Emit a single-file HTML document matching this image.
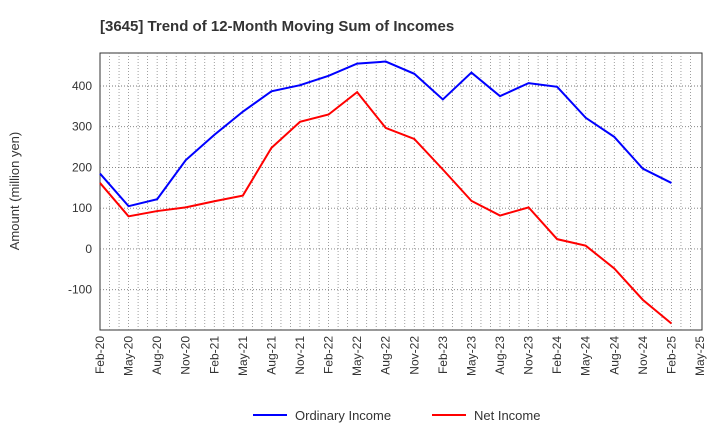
<!DOCTYPE html>
<html><head><meta charset="utf-8"><style>
body{margin:0;background:#fff;font-family:"Liberation Sans",sans-serif;}
</style></head><body>
<svg width="720" height="440" xmlns="http://www.w3.org/2000/svg">
<text x="100" y="31" font-size="15" font-weight="bold" fill="#333">[3645]  Trend of 12-Month Moving Sum of Incomes</text>
<g id="grid"></g>
<g id="axes"></g>
<g id="series"></g>
<text transform="translate(19,191) rotate(-90)" text-anchor="middle" font-size="13" fill="#333">Amount (million yen)</text>
<g>
<line x1="253" y1="415" x2="287" y2="415" stroke="#0000ff" stroke-width="2"/>
<text x="295" y="420" font-size="13" fill="#333">Ordinary Income</text>
<line x1="432" y1="415" x2="466" y2="415" stroke="#ff0000" stroke-width="2"/>
<text x="474" y="420" font-size="13" fill="#333">Net Income</text>
</g>
</svg>
<script>
const xLabels=["Feb-20","May-20","Aug-20","Nov-20","Feb-21","May-21","Aug-21","Nov-21","Feb-22","May-22","Aug-22","Nov-22","Feb-23","May-23","Aug-23","Nov-23","Feb-24","May-24","Aug-24","Nov-24","Feb-25","May-25"];
const yTicks=[-100,0,100,200,300,400];
const ordinaryIncome=[185,105,122,218,280,337,387,402,425,455,460,430,367,433,375,407,398,322,275,197,162];
const netIncome=[162,80,93,102,117,131,248,312,330,385,297,270,195,118,82,102,24,8,-48,-125,-183];
const L=100,R=702,T=53,B=330,yMin=-199,yMax=481;
const NS="http://www.w3.org/2000/svg";
const step=(R-L-2)/(xLabels.length-1);
const xs=i=>L+i*step;
const ys=v=>B-(v-yMin)/(yMax-yMin)*(B-T);
function mk(t,a,p){const e=document.createElementNS(NS,t);for(const k in a)e.setAttribute(k,a[k]);p.appendChild(e);return e;}
const grid=document.getElementById('grid'),axes=document.getElementById('axes'),ser=document.getElementById('series');
mk('rect',{x:L,y:T,width:R-L,height:B-T,fill:'#fff',stroke:'#333','stroke-width':1},grid);
for(let m=1;m<(xLabels.length-1)*3;m++){const x=L+m*step/3;
const g=mk('line',{x1:x,x2:x,y1:T,y2:B,stroke:'#888','stroke-dasharray':'1,2','stroke-width':0.8},grid);

}
yTicks.forEach(v=>{const y=ys(v);
const g=mk('line',{x1:L,x2:R,y1:y,y2:y,stroke:'#777','stroke-dasharray':'1,2','stroke-width':0.9},grid);

});
yTicks.forEach(v=>{const y=ys(v);
const t=mk('text',{x:L-8,y:y+4,'text-anchor':'end','font-size':12,fill:'#333'},axes);t.textContent=v;

});
xLabels.forEach((s,i)=>{const x=xs(i);
const t=mk('text',{transform:`translate(${x+4},${B+6}) rotate(-90)`,'text-anchor':'end','font-size':12,fill:'#333'},axes);t.textContent=s;

});
function line(d,c,n){const p=mk('polyline',{points:d.map((v,i)=>xs(i)+','+ys(v)).join(' '),fill:'none',stroke:c,'stroke-width':2},ser);

}
line(ordinaryIncome,'#0000ff','ordinary-income-line');
line(netIncome,'#ff0000','net-income-line');
</script>
</body></html>
